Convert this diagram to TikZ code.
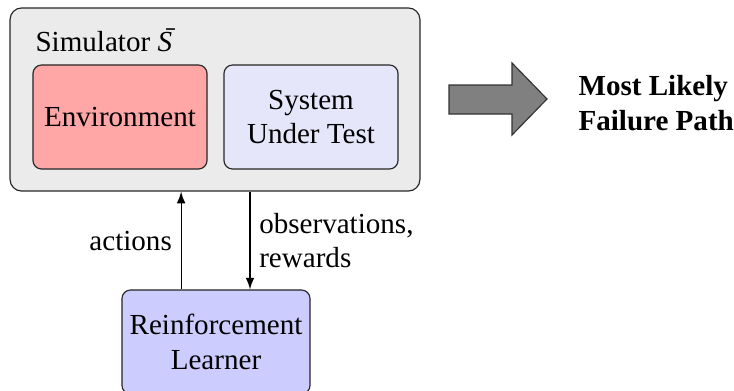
\documentclass[tikz,border=0pt]{standalone}
\usepackage{fontspec}
\setmainfont{LiberationSerif}[Extension=.ttf, UprightFont=*-Regular,
  BoldFont=*-Bold, ItalicFont=*-Italic, BoldItalicFont=*-BoldItalic]
\definecolor{simgray}{HTML}{EBEBEB}
\definecolor{envred}{HTML}{FFA6A6}
\definecolor{sutblue}{HTML}{E6E6FA}
\definecolor{rlblue}{HTML}{CCCCFF}
\tikzset{
  blok/.style={draw=black!85, rounded corners=3pt, align=center, inner sep=0pt,
    minimum width=59.9pt, minimum height=35.8pt},
}
\begin{document}
\begin{tikzpicture}[x=0.344pt,y=-0.344pt,>=latex]
\useasboundingbox (0,0) rectangle (734,391);
% simulator with its two parts
\node[blok, fill=simgray, rounded corners=4pt, minimum width=141pt, minimum height=63pt]
  (sim) at (215,99.5) {};
\node[anchor=west, inner sep=0pt] (simlabel) at (35,40) {Simulator \textit{S}\llap{\raisebox{0.35ex}{\={}}\kern0.5pt}};
\node[blok, fill=envred] (env) at (120,117) {Environment};
\node[blok, fill=sutblue] (sut) at (311,117) {System\\Under Test};
% learner
\node[blok, fill=rlblue, minimum width=64.7pt] (rl) at (216,342) {Reinforcement\\Learner};
\draw[->] ([xshift=-12pt]rl.north) -- ([xshift=-12pt]rl.north |- sim.south)
  node[midway, left, inner sep=3pt] (act) {actions};
\draw[->] ([xshift=11.7pt]rl.north |- sim.south) -- ([xshift=11.7pt]rl.north)
  node[midway, right, align=left, inner sep=3pt] (obs) {observations,\\rewards};
% result
\draw[draw=black!80, fill=gray] (449,85) -- (512,85) -- (512,63) -- (547,99)
  -- (512,135) -- (512,114) -- (449,114) -- cycle;
\node[anchor=west, align=left, inner sep=0pt, font=\bfseries] (path) at (578,103)
  {Most Likely\\Failure Path};
\end{tikzpicture}
\end{document}
